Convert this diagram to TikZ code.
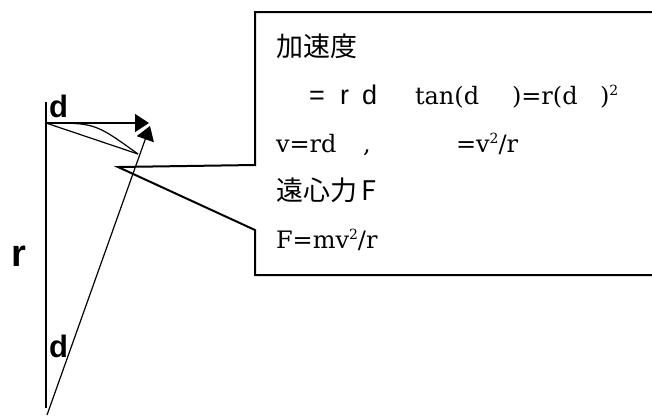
\documentclass[tikz,border=0pt]{standalone}
\usepackage{fontspec}
\newfontfamily\cjk{Noto Sans CJK JP}
\newfontfamily\srf{DejaVu Serif}
\newfontfamily\sns{Liberation Sans}
\usetikzlibrary{arrows.meta}
\newcommand\sqr{\raisebox{9pt}{\fontsize{14}{14}\selectfont 2}}
\begin{document}
\begin{tikzpicture}[x=1pt,y=-1pt,
  txt/.style={anchor=base west,inner sep=0pt,outer sep=0pt},
  jp/.style={txt,font=\cjk\fontsize{27}{30}\selectfont},
  sf/.style={txt,font=\srf\fontsize{24}{28}\selectfont},
  ss/.style={txt,font=\sns\fontsize{27}{30}\selectfont},
  lbl/.style={txt,font=\sns\bfseries\fontsize{31}{33}\selectfont},
  biglbl/.style={txt,font=\sns\bfseries\fontsize{38}{40}\selectfont},
  thin/.style={line width=1.2pt},
  arr/.style={thin,-{Triangle[length=14pt,width=18pt]}},
  box/.style={line width=2pt,line join=miter}]
\useasboundingbox (0,0) rectangle (652,416);
\clip (0,0) rectangle (652,416);
% callout box
\coordinate (tip) at (118,167);
\draw[box,fill=white] (255,230) -- (255,275) -- (670,275) -- (670,12) -- (255,12) -- (255,165) -- (tip) -- cycle;
% geometry
\coordinate (top) at (46,102);
\coordinate (O) at (46,123);
\coordinate (B) at (46,408);
\coordinate (H) at (149,123);
\coordinate (S) at (47,415);
\coordinate (T) at (150,126);
\coordinate (C) at (138,154);
\draw[thin] (top) -- (B);
\draw[arr] (O) -- (H);
\draw[arr] (S) -- (T);
\draw[thin] (O) -- (C);
\draw[thin] (O) .. controls (95,123) .. (C);
% labels
\node[lbl] (d1) at (49,117) {d};
\node[biglbl] (r1) at (11,266) {r};
\node[lbl] (d2) at (49,357) {d};
% text
\node[jp] (l1) at (276,56) {加速度};
\node[ss] (l2a) at (309,104) {=};
\node[ss] (l2b) at (340,104) {r};
\node[ss] (l2c) at (362,104) {d};
\node[sf] (l2d) at (415,104) {tan(d};
\node[sf] (l2e) at (512,104) {)=r(d};
\node[sf] (l2f) at (600,104) {)\sqr};
\node[sf] (l3a) at (276,152) {v=rd};
\node[sf] (l3b) at (363,152) {,};
\node[sf] (l3c) at (456,152) {=v\sqr/r};
\node[jp] (l4) at (276,200) {遠心力\,F};
\node[sf] (l5) at (276,248) {F=mv\sqr/r};
\end{tikzpicture}
\end{document}
